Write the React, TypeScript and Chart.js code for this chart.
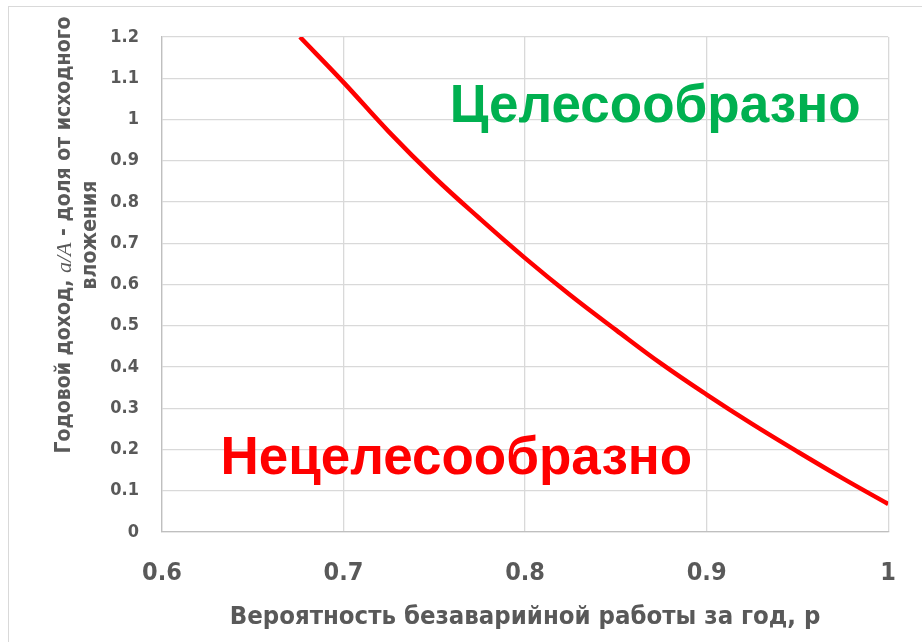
import { useEffect, useRef } from 'react';
import { Chart, registerables } from 'chart.js';

Chart.register(...registerables);

// Probability of failure-free operation per year, p
const pValues = [0.676, 0.7, 0.725, 0.75, 0.775, 0.8, 0.825, 0.85, 0.875, 0.9, 0.925, 0.95, 0.975, 1.0];
// Annual income as a share of the initial investment, a/A
const incomeShare = [1.2, 1.09, 0.97, 0.86, 0.76, 0.664, 0.574, 0.49, 0.408, 0.333, 0.262, 0.195, 0.13, 0.068];

const xTicks = [0.6, 0.7, 0.8, 0.9, 1];
const yTicks = [0, 0.1, 0.2, 0.3, 0.4, 0.5, 0.6, 0.7, 0.8, 0.9, 1, 1.1, 1.2];

const xTitle = 'Вероятность безаварийной работы за год, р';
const yTitleParts = ['Годовой доход, ', 'a/A', ' - доля от исходного'];
const yTitleLine2 = 'вложения';
const goodLabel = 'Целесообразно';
const badLabel = 'Нецелесообразно';

const AXIS_FONT = '"DejaVu Sans Condensed", "Liberation Sans", sans-serif';
const GRAY = '#595959';

const overlayPlugin = {
  id: 'overlay',
  afterDraw(chart: any) {
    const { ctx, scales } = chart;
    const x = scales.x;
    const y = scales.y;
    ctx.save();
    // outer frame
    ctx.strokeStyle = '#d9d9d9';
    ctx.lineWidth = 1;
    ctx.strokeRect(8.5, 6.5, 2000, 2000);

    // region labels
    ctx.textAlign = 'left';
    ctx.textBaseline = 'alphabetic';
    ctx.font = 'bold 53px "Liberation Sans", Arial, sans-serif';
    ctx.fillStyle = '#00B050';
    ctx.fillText(goodLabel, x.getPixelForValue(0.7585), y.getPixelForValue(0.993));
    ctx.fillStyle = '#FF0000';
    ctx.fillText(badLabel, x.getPixelForValue(0.6322), y.getPixelForValue(0.141));

    // rotated y-axis title (two lines)
    const fonts = [
      'bold 21px ' + AXIS_FONT,
      'italic 22px "Liberation Serif", "DejaVu Serif", serif',
      'bold 21px ' + AXIS_FONT,
    ];
    const cy = 235;
    ctx.fillStyle = GRAY;
    ctx.textBaseline = 'middle';
    ctx.save();
    ctx.translate(65, cy);
    ctx.rotate(-Math.PI / 2);
    let total = 0;
    const widths = yTitleParts.map((t, i) => {
      ctx.font = fonts[i];
      const w = ctx.measureText(t).width;
      total += w;
      return w;
    });
    let pos = -total / 2;
    yTitleParts.forEach((t, i) => {
      ctx.font = fonts[i];
      ctx.fillText(t, pos, 0);
      pos += widths[i];
    });
    ctx.restore();
    ctx.save();
    ctx.translate(91, cy);
    ctx.rotate(-Math.PI / 2);
    ctx.font = fonts[0];
    ctx.textAlign = 'center';
    ctx.fillText(yTitleLine2, 0, 0);
    ctx.restore();
    ctx.restore();
  },
};

export default function App() {
  const canvasRef = useRef<HTMLCanvasElement | null>(null);

  useEffect(() => {
    if (!canvasRef.current) return;
    const chart = new Chart(canvasRef.current, {
      type: 'line',
      data: {
        datasets: [
          {
            data: pValues.map((p, i) => ({ x: p, y: incomeShare[i] })),
            borderColor: '#FF0000',
            borderWidth: 4.5,
            pointRadius: 0,
            tension: 0.4,
            fill: false,
          },
        ],
      },
      options: {
        animation: false,
        responsive: true,
        maintainAspectRatio: false,
        layout: { padding: { top: 37, right: 20, left: 0, bottom: 0 } },
        plugins: { legend: { display: false }, tooltip: { enabled: false } },
        scales: {
          x: {
            type: 'linear',
            min: 0.6,
            max: 1,
            afterBuildTicks: (s: any) => {
              s.ticks = xTicks.map((v) => ({ value: v }));
            },
            afterFit: (s: any) => {
              s.height = 110;
            },
            ticks: {
              color: GRAY,
              padding: 26,
              font: { family: AXIS_FONT, size: 25, weight: 'bold' },
              callback: (v: any) => String(Math.round(Number(v) * 10) / 10),
              maxRotation: 0,
            },
            grid: { color: '#d9d9d9', lineWidth: 1.3, drawTicks: false },
            border: { color: '#bfbfbf', width: 1.3 },
            title: {
              display: true,
              text: xTitle,
              color: GRAY,
              font: { family: AXIS_FONT, size: 25.5, weight: 'bold' },
              padding: { top: 0, bottom: 9 },
            },
          },
          y: {
            min: 0,
            max: 1.2,
            afterBuildTicks: (s: any) => {
              s.ticks = yTicks.map((v) => ({ value: v }));
            },
            afterFit: (s: any) => {
              s.width = 162;
            },
            ticks: {
              color: GRAY,
              padding: 23,
              font: { family: AXIS_FONT, size: 18, weight: 'bold' },
              callback: (v: any) => String(Math.round(Number(v) * 10) / 10),
            },
            grid: { color: '#d9d9d9', lineWidth: 1.3, drawTicks: false },
            border: { color: '#bfbfbf', width: 1.3 },
          },
        },
      },
      plugins: [overlayPlugin],
    } as any);
    return () => chart.destroy();
  }, []);

  return (
    <div style={{ position: 'absolute', left: 0, top: 0, width: 922, height: 642, background: '#fff' }}>
      <canvas ref={canvasRef} />
    </div>
  );
}
